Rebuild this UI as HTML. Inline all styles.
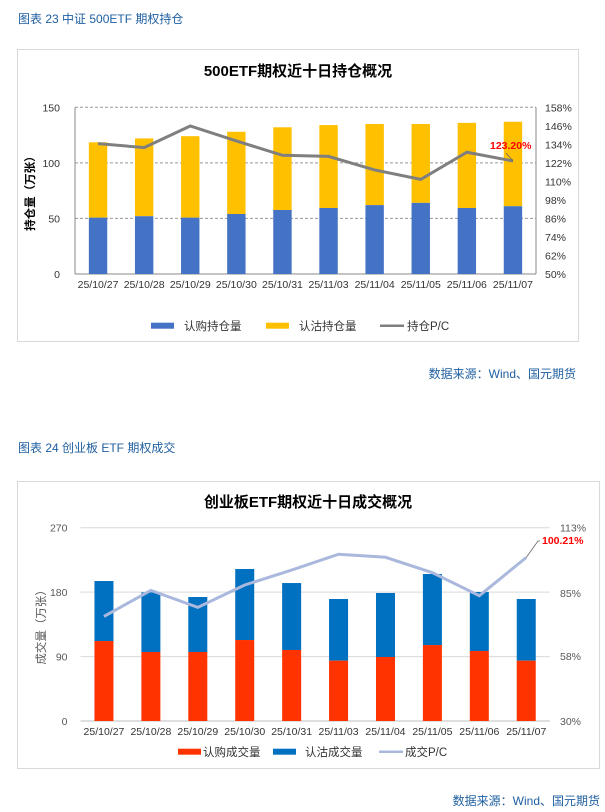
<!DOCTYPE html>
<html><head><meta charset="utf-8"><style>
body{margin:0;background:#fff;width:605px;height:812px;overflow:hidden;font-family:"Liberation Sans","Noto Sans CJK SC",sans-serif}
svg{position:absolute;left:0;top:0}
</style></head><body>
<svg id="s" width="605" height="812" xmlns="http://www.w3.org/2000/svg" font-family="Liberation Sans, Noto Sans CJK SC, sans-serif">
<text x="18" y="23" font-size="12" fill="#1f5fa0">图表 23  中证 500ETF 期权持仓</text>
<rect x="17.5" y="49.5" width="561" height="292" fill="#fff" stroke="#d9d9d9"/>
<text x="298" y="76" font-size="15" font-weight="bold" text-anchor="middle" fill="#000">500ETF期权近十日持仓概况</text>
<text x="576" y="378" font-size="12" text-anchor="end" fill="#1f5fa0">数据来源：Wind、国元期货</text>
<text x="18" y="452" font-size="12" fill="#1f5fa0">图表 24  创业板 ETF 期权成交</text>
<rect x="17.5" y="481.5" width="582" height="287" fill="#fff" stroke="#d9d9d9"/>
<text x="308" y="507" font-size="15" font-weight="bold" text-anchor="middle" fill="#000">创业板ETF期权近十日成交概况</text>
<text x="600" y="805" font-size="12" text-anchor="end" fill="#1f5fa0">数据来源：Wind、国元期货</text>
<g id="c1"></g><g id="c2"></g>
</svg>
<script>
const dates=["25/10/27","25/10/28","25/10/29","25/10/30","25/10/31","25/11/03","25/11/04","25/11/05","25/11/06","25/11/07"];
const oiCall=[50.7,52,50.7,54,57.6,59.4,62,64,59.4,61];
const oiTotal=[118.5,122,124,128,132,134,135,135,136,137];
const oiPC=[134.5,131.9,145.9,136.2,126.9,126.2,117.4,111.3,128.9,123.2];
const oiLeftTicks=[0,50,100,150];
const oiRightTicks=[50,62,74,86,98,110,122,134,146,158];
const volCall=[111.7,96.4,96.4,113.1,99.2,84.3,89.4,106.1,97.8,84.3];
const volTotal=[195.5,179.7,173.2,212.3,192.7,170.4,178.8,205.3,180.2,170.4];
const volPC=[74.9,86.1,78.8,88.4,94.8,101.6,100.3,93.7,83.8,100.21];
const volLeftTicks=[0,90,180,270];
const volRightTicks=[30,58,85,113];
const NS="http://www.w3.org/2000/svg";
function mk(p,t,a){const e=document.createElementNS(NS,t);for(const k in a)e.setAttribute(k,a[k]);p.appendChild(e);return e;}
function chart(g,o){
  const L=o.L,R=o.R,T=o.T,B=o.B,n=dates.length,w=(R-L)/n;
  const y=v=>B-(v-o.ymin)/(o.ymax-o.ymin)*(B-T);
  const y2=v=>B-(v-o.rmin)/(o.rmax-o.rmin)*(B-T);
  const x=i=>L+w*(i+0.5);
  o.lt.forEach(t=>{const l=mk(g,'line',{x1:L,x2:R,y1:y(t),y2:y(t),stroke:o.grid,'stroke-dasharray':o.dash||''});
    
    
    const tx=mk(g,'text',{x:L-o.lg,y:y(t)+4,'font-size':10.5,'text-anchor':'end',fill:o.tc});tx.textContent=t;
    
    });
  o.rt.forEach(t=>{const tx=mk(g,'text',{x:o.rx,y:y2(t)+4,'font-size':10.5,fill:o.tc});tx.textContent=t+'%';
    
    });
  if(o.axes){mk(g,'line',{x1:L,x2:L,y1:T,y2:B,stroke:'#888'});mk(g,'line',{x1:R,x2:R,y1:T,y2:B,stroke:'#888'});mk(g,'line',{x1:L,x2:R,y1:B,y2:B,stroke:'#888'});}
  else mk(g,'line',{x1:L,x2:R,y1:B,y2:B,stroke:'#bfbfbf'});
  dates.forEach((d,i)=>{
    const r1=mk(g,'rect',{x:x(i)-o.bw/2,y:y(o.tot[i]),width:o.bw,height:y(o.call[i])-y(o.tot[i]),fill:o.c2});
    
    
    const r2=mk(g,'rect',{x:x(i)-o.bw/2,y:y(o.call[i]),width:o.bw,height:B-y(o.call[i]),fill:o.c1});
    
    
    const tx=mk(g,'text',{x:x(i),y:B+14,'font-size':10.5,'text-anchor':'middle',fill:'#333'});tx.textContent=d;
    
    
  });
  const pl=mk(g,'polyline',{points:o.pc.map((v,i)=>x(i)+','+y2(v)).join(' '),fill:'none',stroke:o.lc,'stroke-width':3});
  
  
  const li=n-1,lab=mk(g,'text',{x:o.labx,y:o.laby,'font-size':10.5,'font-weight':'bold',fill:'#ff0000'});lab.textContent=o.pc[li].toFixed(2)+'%';
  
  
  mk(g,'polyline',{points:`${x(li)},${y2(o.pc[li])} ${o.lpts}`,fill:'none',stroke:'#666','stroke-width':0.8});
  const at=mk(g,'text',{x:0,y:0,'font-size':11.5,fill:o.atc,'font-weight':o.atw,transform:`translate(${o.ax},${(T+B)/2}) rotate(-90)`,'text-anchor':'middle'});at.textContent=o.atitle;
  
  
  o.leg.forEach(e=>{
    if(e.line)mk(g,'line',{x1:e.x,x2:e.x+24,y1:o.ly2,y2:o.ly2,stroke:e.c,'stroke-width':2.5});
    else mk(g,'rect',{x:e.x,y:o.ly2-3,width:23,height:6,fill:e.c});
    const t=mk(g,'text',{x:e.tx,y:o.ly2+4.5,'font-size':11.5,fill:'#333'});t.textContent=e.t;
    
    
  });
}
chart(document.getElementById('c1'),{L:75,R:536,T:107.3,B:274,ymin:0,ymax:150,rmin:50,rmax:158,lt:oiLeftTicks,rt:oiRightTicks,rx:545,lg:15,grid:'#999',dash:'3,2',tc:'#333',axes:true,
 call:oiCall,tot:oiTotal,pc:oiPC,bw:18.4,c1:'#4472c4',c2:'#ffc000',lc:'#7f7f7f',labx:490,laby:149,lpts:'506,153',
 ax:34,atitle:'持仓量（万张）',atc:'#000',atw:'bold',ly2:325.7,
 leg:[{x:151,tx:184,c:'#4472c4',t:'认购持仓量'},{x:266,tx:299,c:'#ffc000',t:'认沽持仓量'},{x:380,tx:407,c:'#7f7f7f',t:'持仓P/C',line:true}]});
chart(document.getElementById('c2'),{L:80.5,R:549.7,T:527.7,B:721,ymin:0,ymax:270,rmin:30,rmax:113,lt:volLeftTicks,rt:volRightTicks,rx:560,lg:13,grid:'#d9d9d9',tc:'#595959',axes:false,
 call:volCall,tot:volTotal,pc:volPC,bw:19,c1:'#ff3300',c2:'#0070c0',lc:'#a9b8dc',labx:542,laby:544,lpts:'538,541 540,541',
 ax:45,atitle:'成交量（万张）',atc:'#595959',atw:'normal',ly2:751.7,
 leg:[{x:178,tx:203,c:'#ff3300',t:'认购成交量'},{x:273,tx:305,c:'#0070c0',t:'认沽成交量'},{x:379,tx:405,c:'#a9b8dc',t:'成交P/C',line:true}]});
</script>
</body></html>
